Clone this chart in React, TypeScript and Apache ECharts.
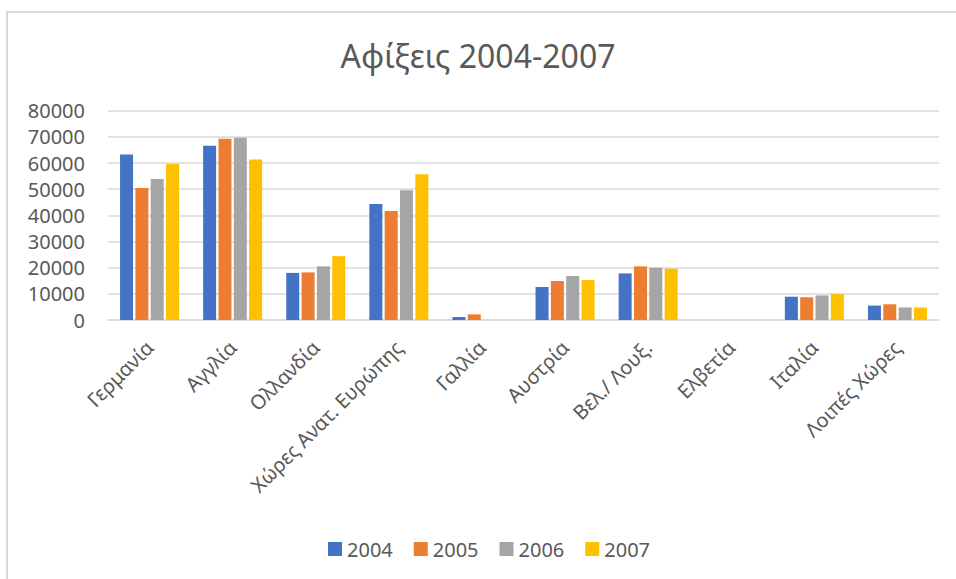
import React, { useEffect, useRef } from "react";
import * as echarts from "echarts";

const categories = [
  "Γερμανία",
  "Αγγλία",
  "Ολλανδία",
  "Χώρες Ανατ. Ευρώπης",
  "Γαλλία",
  "Αυστρία",
  "Βελ./ Λουξ.",
  "Ελβετία",
  "Ιταλία",
  "Λοιπές Χώρες",
];

const years = ["2004", "2005", "2006", "2007"];

const values2004 = [63300, 66600, 18000, 44300, 1150, 12600, 17800, null, 8900, 5500];
const values2005 = [50500, 69300, 18200, 41700, 2150, 14900, 20500, null, 8700, 6000];
const values2006 = [53900, 69700, 20500, 49600, null, 16800, 20000, null, 9400, 4800];
const values2007 = [59600, 61300, 24400, 55700, null, 15300, 19600, null, 9900, 4800];

const seriesValues = [values2004, values2005, values2006, values2007];
const colors = ["#4472C4", "#ED7D31", "#A5A5A5", "#FFC000"];

const yMin = 0;
const yMax = 80000;
const yInterval = 10000;

export default function App() {
  const ref = useRef<HTMLDivElement>(null);

  useEffect(() => {
    if (!ref.current) return;
    const chart = echarts.init(ref.current, undefined, { renderer: "svg" });
    const font = "'Noto Sans', 'Open Sans', sans-serif";
    chart.setOption({
      animation: false,
      backgroundColor: "#ffffff",
      color: colors,
      textStyle: { fontFamily: font },
      title: {
        text: "Αφίξεις 2004-2007",
        left: "center",
        top: 34,
        textStyle: {
          fontFamily: font,
          fontSize: 32,
          fontWeight: "normal",
          color: "#595959",
        },
      },
      graphic: [
        {
          type: "rect",
          shape: { x: 7, y: 12, width: 1000, height: 1000 },
          style: { fill: "none", stroke: "#d9d9d9", lineWidth: 2 },
          silent: true,
        },
      ],
      legend: {
        left: 328,
        top: 539,
        padding: 0,
        itemWidth: 14,
        itemHeight: 14,
        itemGap: 21,
        icon: "rect",
        textStyle: { fontFamily: font, fontSize: 20, color: "#595959" },
        data: years,
      },
      grid: {
        left: 108,
        right: 17,
        top: 110.7,
        bottom: 259,
        containLabel: false,
      },
      xAxis: {
        type: "category",
        data: categories,
        axisLine: { show: true, lineStyle: { color: "#d9d9d9", width: 1.5 } },
        axisTick: { show: false },
        axisLabel: {
          rotate: 45,
          interval: 0,
          margin: 24,
          fontFamily: font,
          fontSize: 20,
          color: "#595959",
        },
      },
      yAxis: {
        type: "value",
        min: yMin,
        max: yMax,
        interval: yInterval,
        axisLine: { show: false },
        axisTick: { show: false },
        axisLabel: {
          margin: 23,
          fontFamily: font,
          fontSize: 20,
          color: "#595959",
          formatter: (v: number) => String(v),
        },
        splitLine: { lineStyle: { color: "#d9d9d9", width: 1.5 } },
      },
      series: years.map((y, i) => ({
        name: y,
        type: "bar",
        data: seriesValues[i],
        barWidth: 13,
        barGap: "18%",
        itemStyle: { color: colors[i] },
      })),
    });
    return () => chart.dispose();
  }, []);

  return (
    <div
      ref={ref}
      style={{ position: "fixed", left: 0, top: 0, width: 956, height: 579 }}
    />
  );
}
